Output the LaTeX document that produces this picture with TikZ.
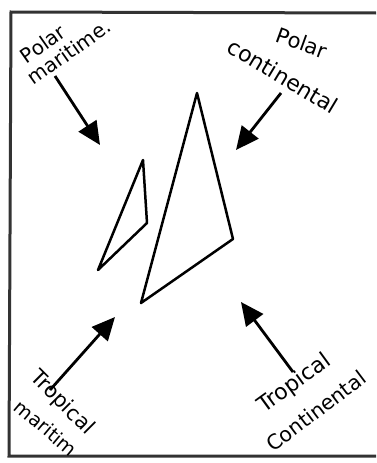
\documentclass[tikz,border=0pt]{standalone}
\usepackage{fontspec}
\setmainfont{DejaVu Sans}
\usetikzlibrary{arrows.meta}
\tikzset{
  hand/.style={font=\fontsize{#1}{#1}\selectfont, inner sep=0pt},
  hand/.default=20,
  airarrow/.style={line width=2.8pt, -{Triangle[length=23pt,width=21pt]}},
  outline/.style={line width=2.5pt, line join=round},
  framepen/.style={line width=3pt, black!80},
}
\begin{document}
\begin{tikzpicture}[x=1pt,y=-1pt]
\useasboundingbox (0,0) rectangle (376,463);
% frame (right side runs off the page)
\coordinate (f1) at (376,13);
\coordinate (f2) at (11,12);
\coordinate (f3) at (9,456);
\coordinate (f4) at (376,456);
\draw[framepen] (f1) -- (f2) -- (f3) -- (f4);
% triangles
\draw[outline] (143,160) -- (147,223) -- (98,270) -- cycle;
\draw[outline] (197,93) -- (233,239) -- (141,303) -- cycle;
% labels
\node[hand=20, rotate=35] (pm1) at (43,44) {Polar};
\node[hand=20, rotate=35] (pm2) at (69,52) {maritime.};
\node[hand=21, rotate=-20] (pc1) at (302,43) {Polar};
\node[hand=22, rotate=-31] (pc2) at (283,76) {continental};
\node[hand=21, rotate=-45] (tm1) at (62,403) {Tropical};
\node[hand=19, rotate=-40] (tm2) at (46,428) {maritim};
\node[hand=22, rotate=36] (tc1) at (295,384) {Tropical};
\node[hand=20.5, rotate=37] (tc2) at (316,411) {Continental};
% arrow end points
\coordinate (pmS) at (55,76);   \coordinate (pmE) at (100,145);
\coordinate (pcS) at (281,93);  \coordinate (pcE) at (236,150);
\coordinate (tmS) at (50,390);  \coordinate (tmE) at (115,317);
\coordinate (tcS) at (293,372); \coordinate (tcE) at (241,302);
\draw[airarrow] (pmS) -- (pmE);
\draw[airarrow] (pcS) -- (pcE);
\draw[airarrow] (tmS) -- (tmE);
\draw[airarrow] (tcS) -- (tcE);
\end{tikzpicture}
\end{document}
